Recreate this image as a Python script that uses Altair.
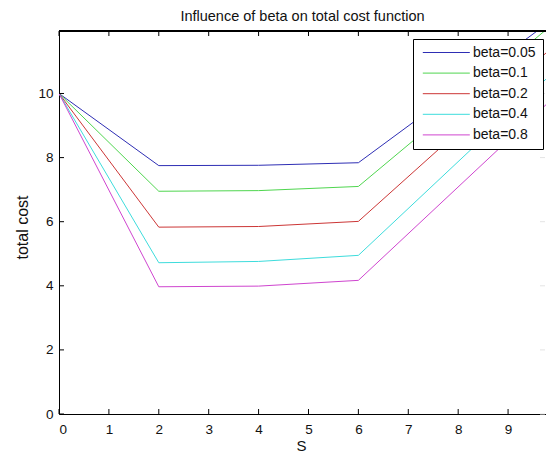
import altair as alt
import pandas as pd

# Order quantity S and total cost for each beta
S = [0, 2, 4, 6, 10]
beta_labels = ["beta=0.05", "beta=0.1", "beta=0.2", "beta=0.4", "beta=0.8"]
cost_005 = [10, 7.75, 7.76, 7.84, 12.43]
cost_01 = [10, 6.95, 6.97, 7.10, 12.30]
cost_02 = [10, 5.83, 5.85, 6.01, 11.60]
cost_04 = [10, 4.72, 4.76, 4.95, 10.80]
cost_08 = [10, 3.97, 3.99, 4.17, 10.00]
line_colors = ["#2e2eb4", "#4fd64f", "#cc3636", "#3ddcdc", "#cf45cf"]

x_ticks = [0, 1, 2, 3, 4, 5, 6, 7, 8, 9]
y_ticks = [0, 2, 4, 6, 8, 10]

FONT = "Liberation Sans"
W, H = 487, 383
X_MAX, Y_MAX = 9.76, 11.95

rows = []
for label, series in zip(beta_labels, [cost_005, cost_01, cost_02, cost_04, cost_08]):
    for s, c in zip(S, series):
        rows.append({"S": s, "cost": c, "beta": label})
df = pd.DataFrame(rows)

xs = alt.Scale(domain=[0, X_MAX], nice=False, zero=False)
ys = alt.Scale(domain=[0, Y_MAX], nice=False)

lines = alt.Chart(df).mark_line(strokeWidth=1, clip=True).encode(
    x=alt.X("S:Q", scale=xs, axis=alt.Axis(
        values=x_ticks, title="S", grid=False, tickSize=0, labelPadding=8,
        labelFont=FONT, labelFontSize=13.5, labelColor="#111111",
        domainColor="black", domainWidth=1,
        titleFont=FONT, titleFontSize=15, titleFontWeight="normal", titleColor="#111111",
        titleX=242, titleY=31, titleBaseline="middle", titleAlign="center",
    )),
    y=alt.Y("cost:Q", scale=ys, axis=alt.Axis(
        values=y_ticks, title="total cost", grid=False, tickSize=0, labelPadding=6,
        labelFont=FONT, labelFontSize=13.5, labelColor="#111111",
        domainColor="black", domainWidth=1,
        titleFont=FONT, titleFontSize=16, titleFontWeight="normal", titleColor="#111111",
        titleAngle=-90, titleX=-37, titleY=196, titleBaseline="middle", titleAlign="center",
    )),
    color=alt.Color("beta:N", scale=alt.Scale(domain=beta_labels, range=line_colors),
                    legend=alt.Legend(
                        title=None, orient="none", legendX=354, legendY=8,
                        symbolType="M-4.7,0H4.7", symbolSize=100, symbolStrokeWidth=1,
                        symbolOffset=19.8, labelOffset=19.6,
                        labelFont=FONT, labelFontSize=14, labelColor="#111111", labelLimit=200,
                        padding=6.5, rowPadding=6.6,
                        strokeColor="black", fillColor="white",
                    )),
)

# inward tick marks on the frame
xt = pd.DataFrame({"S": x_ticks})
yt = pd.DataFrame({"cost": y_ticks})
bottom_ticks = alt.Chart(xt).mark_rule(color="black", strokeWidth=1).encode(
    x=alt.X("S:Q", scale=xs), y=alt.value(H), y2=alt.value(H - 5))
top_ticks = alt.Chart(xt).mark_rule(color="black", strokeWidth=1).encode(
    x=alt.X("S:Q", scale=xs), y=alt.value(0), y2=alt.value(5))
left_ticks = alt.Chart(yt).mark_rule(color="black", strokeWidth=1).encode(
    y=alt.Y("cost:Q", scale=ys), x=alt.value(0), x2=alt.value(5))
right_ticks = alt.Chart(yt).mark_rule(color="#e4e4e4", strokeWidth=1).encode(
    y=alt.Y("cost:Q", scale=ys), x=alt.value(W - 6), x2=alt.value(W - 1))
top_frame = alt.Chart(xt).mark_rule(color="black", strokeWidth=1).encode(
    x=alt.value(0), x2=alt.value(W), y=alt.value(0))

chart = alt.layer(lines, bottom_ticks, top_ticks, left_ticks, right_ticks, top_frame).properties(
    width=W, height=H,
    title=alt.TitleParams("Influence of beta on total cost function", font=FONT, fontSize=14.5,
                          fontWeight="normal", color="#111111", anchor="middle",
                          frame="group", baseline="alphabetic", offset=11.5, dy=16),
    autosize=alt.AutoSizeParams(type="none"),
    padding={"left": 59, "top": 31, "right": 0, "bottom": 38},
).configure_view(stroke=None).configure(background="white")

chart.save("out.html", embed_options={"renderer": "svg", "actions": False})
